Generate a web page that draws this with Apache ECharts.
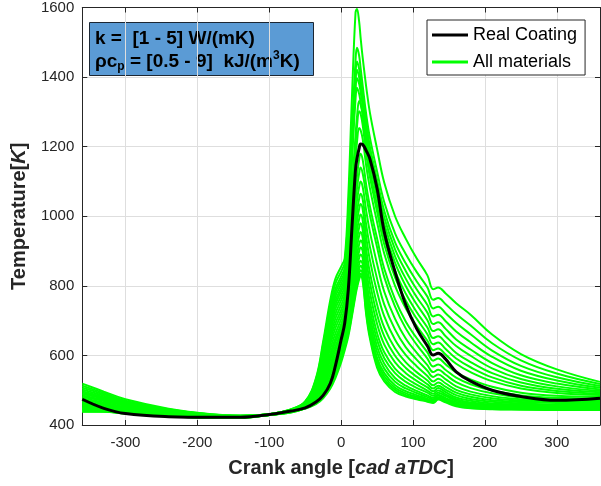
<!DOCTYPE html>
<html><head><meta charset="utf-8">
<script src="https://cdn.jsdelivr.net/npm/echarts@6/dist/echarts.min.js"></script>
<style>html,body{margin:0;padding:0;background:#fff}#c{width:601px;height:486px}</style>
</head><body><div id="c"></div>
<script>
const crankAngle = [-360,-330,-300,-240,-180,-140,-100, -70,-50,-35,-25,-15,-8,0,5, 10,15,20,22,25,27,30,35, 40,50,60,75,90,105,120,128, 135,145,160,180,210,250,300,360];
const realCoating = [474,448,433,424,422,422,430, 440,449,466,485,520,570,645,693, 790,965,1135,1165,1195,1208,1206,1188, 1165,1080,955,840,745,677,627,601, 606,590,553,526,500,482,471,477];
const mat01 = [519,496,474,447,431,427,431, 445,468,535,640,760,820,855,880, 1060,1340,1585,1596,1560,1515,1455,1370, 1298,1193,1096,1000,935,879,830,790, 795,779,750,717,660,604,560,524];
const mat02 = [513,492,470,445,430,427,431, 445,467,531,632,747,806,841,867, 1015,1243,1447,1484,1462,1427,1375,1291, 1226,1129,1040,951,891,840,795,760, 765,748,719,686,635,586,548,518];
const mat03 = [507,488,467,444,430,426,431, 444,466,527,624,735,791,827,853, 995,1214,1409,1445,1424,1393,1346,1266, 1201,1104,1015,925,864,813,769,735, 740,722,693,661,614,570,537,512];
const mat04 = [502,484,465,443,429,426,431, 444,465,525,617,724,780,816,843, 982,1196,1386,1421,1400,1372,1329,1252, 1186,1088,996,905,842,790,745,712, 717,699,669,638,596,556,528,507];
const mat05 = [497,480,462,441,429,426,431, 443,464,522,611,714,769,805,832, 968,1177,1363,1397,1381,1358,1319,1239, 1172,1072,978,885,820,768,723,690, 695,677,646,617,578,543,519,502];
const mat06 = [493,478,460,440,428,426,431, 443,463,518,604,704,757,794,822, 953,1156,1336,1369,1352,1330,1295,1222, 1156,1054,960,866,799,747,701,670, 675,656,627,599,563,532,511,498];
const mat07 = [489,475,458,440,428,425,430, 443,462,516,598,694,746,784,811, 920,1076,1232,1284,1331,1322,1290,1198, 1132,1031,937,843,777,725,680,650, 655,637,607,581,549,522,504,494];
const mat08 = [485,472,456,439,428,425,430, 442,462,512,591,683,734,772,800, 905,1056,1207,1257,1302,1295,1262,1178, 1113,1013,919,824,757,706,661,632, 637,619,591,566,537,513,498,490];
const mat09 = [481,469,455,438,427,425,430, 442,461,509,583,671,720,759,787, 885,1025,1165,1212,1254,1248,1222,1143, 1081,983,892,800,735,685,642,615, 620,603,576,552,526,505,492,486];
const mat10 = [476,465,452,436,427,425,430, 441,460,505,575,658,706,745,774, 851,959,1074,1115,1162,1180,1162,1088, 1029,936,849,761,697,650,609,585, 591,575,551,531,510,493,484,481];
const mat11 = [471,462,450,435,426,425,430, 441,459,501,567,645,692,731,761, 833,933,1041,1079,1123,1140,1123,1060, 1003,911,825,740,677,631,591,568, 574,559,536,517,499,485,478,476];
const mat12 = [467,459,448,434,426,424,430, 441,458,498,559,633,678,718,748, 815,908,1008,1044,1084,1100,1084,1014, 955,863,783,705,648,608,572,552, 559,545,523,506,491,479,473,472];
const mat13 = [463,456,446,433,425,424,430, 440,457,494,550,620,663,704,734, 797,885,979,1012,1050,1065,1049,973, 912,820,746,674,623,588,556,538, 545,532,511,496,483,474,469,468];
const mat14 = [460,454,444,433,425,424,430, 440,455,490,542,607,649,690,721, 781,864,953,985,1021,1035,1020,938, 874,782,712,645,601,569,541,525, 533,520,501,488,477,470,466,465];
const mat15 = [457,452,443,432,425,424,430, 439,455,487,536,597,638,679,710, 766,844,928,958,992,1005,988,903, 838,746,680,620,580,552,528,514, 522,510,493,481,471,466,463,462];
const mat16 = [454,450,441,431,424,424,430, 439,454,484,529,587,626,668,700, 753,827,907,935,967,980,961,875, 809,717,655,599,564,539,517,505, 513,502,486,475,467,462,459,459];
const mat17 = [451,447,440,430,424,424,429, 439,453,481,523,576,615,657,689, 740,810,886,912,943,955,937,847, 781,690,631,580,549,527,508,497, 506,495,479,470,462,459,456,456];
const mat18 = [449,446,439,430,423,423,429, 438,452,478,516,566,603,646,679, 727,793,865,890,919,930,919,820, 754,664,609,562,535,516,499,490, 499,489,474,465,459,456,454,454];
const mat19 = [447,445,438,429,423,423,429, 438,451,475,510,556,592,635,668, 714,778,847,871,899,910,899,800, 733,644,592,549,524,507,493,484, 493,484,470,462,456,454,452,452];
const mat20 = [445,443,437,428,422,422,429, 437,450,472,503,546,581,624,657, 701,763,829,853,880,890,880,779, 713,625,576,535,513,498,485,478, 487,478,466,458,453,451,450,450];
const mat21 = [443,442,436,428,422,422,429, 437,450,469,497,536,569,613,647, 690,749,814,836,862,872,862,761, 695,609,562,524,505,492,480,474, 484,475,462,455,451,449,448,448];
const mat22 = [441,440,435,427,421,421,429, 437,449,467,492,528,561,605,639, 681,739,801,823,848,858,846,745, 680,593,549,514,497,486,475,470, 480,471,459,452,448,447,446,446];
const mat23 = [440,439,434,427,421,421,429, 437,448,465,487,520,552,597,631, 672,728,789,811,835,845,834,733, 667,583,540,507,491,481,472,467, 477,469,457,451,447,446,445,445];
const mat24 = [439,439,433,426,421,421,429, 436,448,462,482,513,544,588,623, 663,719,780,801,825,835,822,723, 657,573,532,501,486,477,469,465, 475,467,456,449,446,445,444,444];
const mat25 = [438,438,433,426,420,420,429, 436,447,460,477,505,535,580,615, 655,712,773,794,818,828,813,715, 649,565,525,495,482,474,467,463, 473,465,454,448,445,444,443,443];
const allMaterials = [mat01,mat02,mat03,mat04,mat05,mat06,mat07,mat08,mat09,mat10,mat11,mat12,mat13,mat14,mat15,mat16,mat17,mat18,mat19,mat20,mat21,mat22,mat23,mat24,mat25];
const xTickLabels = [-300,-200,-100,0,100,200,300];
const yTickLabels = [400,600,800,1000,1200,1400,1600];
const legendNames = ['Real Coating','All materials'];

const FONT = 'Liberation Sans, Arial, Helvetica, sans-serif';
const AX = '#262626';
const chart = echarts.init(document.getElementById('c'), null, {renderer:'canvas'});
const pairs = vals => crankAngle.map((x,i)=>[x, vals[i]]);
const series = allMaterials.map(v => ({
  name: legendNames[1], type:'line', data: pairs(v), symbol:'none', smooth:0.4,
  lineStyle:{color:'#00ff00', width:2}, itemStyle:{color:'#00ff00'}, z:2, silent:true
}));
series.push({
  name: legendNames[0], type:'line', data: pairs(realCoating), symbol:'none', smooth:0.4,
  lineStyle:{color:'#000000', width:3}, itemStyle:{color:'#000000'}, z:3, silent:true
});
const xBase = {
  type:'value', min:-360, max:360,
  axisLine:{show:true, onZero:false, lineStyle:{color:AX, width:1}},
  axisTick:{show:true, inside:true, length:5, lineStyle:{color:AX}},
  splitLine:{show:false}
};
const yBase = {
  type:'value', min:400, max:1600, interval:200,
  axisLine:{show:true, onZero:false, lineStyle:{color:AX, width:1}},
  axisTick:{show:true, inside:true, length:5, lineStyle:{color:AX}},
  splitLine:{show:false}
};
chart.setOption({
  animation:false,
  backgroundColor:'#ffffff',
  grid:{left:75, top:6, right:1, bottom:61, containLabel:false},
  xAxis:[
    Object.assign({}, xBase, {
      position:'bottom',
      name:'Crank angle [{i|cad aTDC}]', nameLocation:'middle', nameGap:32,
      nameTextStyle:{color:AX, fontSize:20, fontWeight:'bold', fontFamily:FONT, lineHeight:22,
        rich:{i:{fontStyle:'italic', fontWeight:'bold', fontSize:20, fontFamily:FONT, color:AX, lineHeight:22}}},
      axisLabel:{show:true, color:AX, fontSize:15, fontFamily:FONT, margin:10, showMinLabel:false, showMaxLabel:false,
        formatter: v => String(v)},
      splitLine:{show:true, lineStyle:{color:'#dedede', width:1}}
    }),
    Object.assign({}, xBase, {position:'top', axisLabel:{show:false}})
  ],
  yAxis:[
    Object.assign({}, yBase, {
      position:'left',
      name:'Temperature[{i|K}]', nameLocation:'middle', nameGap:45, nameRotate:90,
      nameTextStyle:{color:AX, fontSize:20, fontWeight:'bold', fontFamily:FONT, lineHeight:22,
        rich:{i:{fontStyle:'italic', fontWeight:'bold', fontSize:20, fontFamily:FONT, color:AX, lineHeight:22}}},
      axisLabel:{show:true, color:AX, fontSize:15, fontFamily:FONT, margin:8, formatter: v => String(v)},
      splitLine:{show:true, lineStyle:{color:'#dedede', width:1}}
    }),
    Object.assign({}, yBase, {position:'right', axisLabel:{show:false}})
  ],
  legend:{
    data:[{name:legendNames[0], icon:'rect'},{name:legendNames[1], icon:'rect'}],
    orient:'vertical', left:427, top:20,
    padding:[5,8,3,5], itemGap:7, itemWidth:36, itemHeight:3,
    borderColor:AX, borderWidth:1, backgroundColor:'#ffffff', borderRadius:0,
    textStyle:{fontSize:18, color:'#000', fontFamily:FONT, lineHeight:20},
    selectedMode:false
  },
  graphic:[{
    type:'group', children:[
      {type:'rect', shape:{x:89.5, y:22.5, width:224, height:53}, style:{fill:'#5b9bd5', stroke:'#1c2733', lineWidth:1}},
      {type:'text', x:95, y:27, style:{
        text:'k =  [1 - 5] W/(mK)\nρc{sub|p} = [0.5 - 9]  kJ/(m{sup|3}K)',
        fill:'#000', fontSize:19, fontWeight:'bold', fontFamily:FONT, lineHeight:23,
        rich:{
          sub:{fontSize:12, fontWeight:'bold', fontFamily:FONT, fill:'#000', color:'#000', verticalAlign:'bottom', lineHeight:14},
          sup:{fontSize:12, fontWeight:'bold', fontFamily:FONT, fill:'#000', color:'#000', verticalAlign:'top', lineHeight:16}
        }
      }}
    ]
  }],
  series: series
});
</script></body></html>
